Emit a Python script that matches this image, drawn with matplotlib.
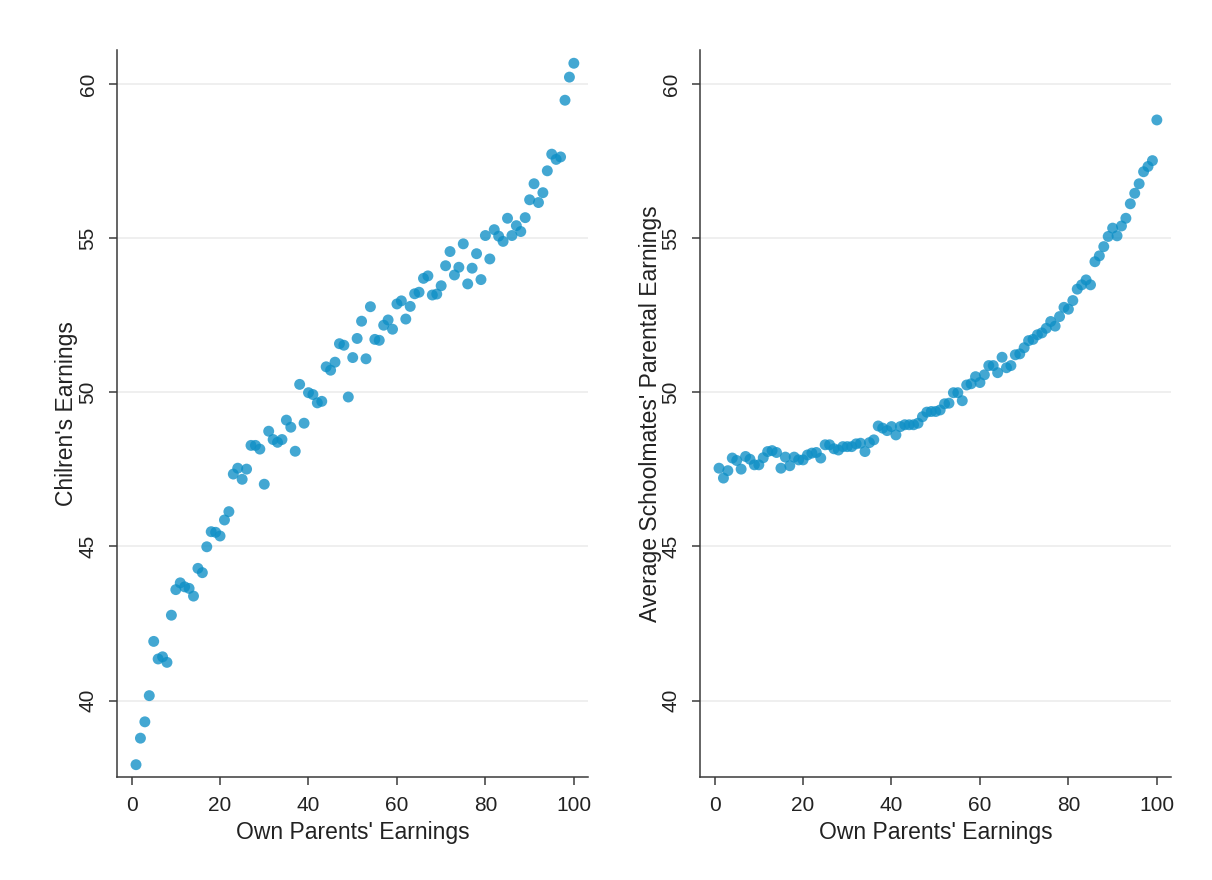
import matplotlib
matplotlib.use("Agg")
import matplotlib.pyplot as plt
import numpy as np

plt.rcParams['font.family'] = ['Liberation Sans', 'DejaVu Sans']

# Percentile of own parents' earnings
parent_rank = list(range(1, 101))

# Mean children's earnings rank by parent percentile
child_earnings = [
    37.92, 38.78, 39.31, 40.16, 41.92, 41.35, 41.42, 41.24, 42.77, 43.60,
    43.82, 43.69, 43.64, 43.39, 44.29, 44.15, 44.99, 45.48, 45.46, 45.34,
    45.86, 46.13, 47.35, 47.54, 47.18, 47.51, 48.28, 48.28, 48.16, 47.02,
    48.74, 48.47, 48.38, 48.47, 49.10, 48.87, 48.09, 50.26, 49.00, 49.99,
    49.93, 49.66, 49.71, 50.83, 50.72, 50.98, 51.58, 51.53, 49.85, 51.13,
    51.75, 52.31, 51.09, 52.78, 51.72, 51.69, 52.18, 52.35, 52.05, 52.87,
    52.97, 52.38, 52.79, 53.20, 53.25, 53.70, 53.78, 53.16, 53.19, 53.46,
    54.11, 54.57, 53.81, 54.06, 54.82, 53.52, 54.03, 54.50, 53.66, 55.09,
    54.33, 55.28, 55.07, 54.90, 55.65, 55.09, 55.41, 55.22, 55.67, 56.25,
    56.77, 56.16, 56.48, 57.19, 57.73, 57.56, 57.64, 59.48, 60.23, 60.68,
]

# Mean parental earnings rank of schoolmates by parent percentile
schoolmate_earnings = [
    47.54, 47.22, 47.46, 47.87, 47.79, 47.51, 47.92, 47.83, 47.65, 47.65,
    47.88, 48.08, 48.11, 48.05, 47.54, 47.90, 47.62, 47.90, 47.81, 47.81,
    47.97, 48.03, 48.05, 47.87, 48.30, 48.30, 48.17, 48.13, 48.24, 48.24,
    48.24, 48.33, 48.35, 48.08, 48.37, 48.46, 48.91, 48.84, 48.76, 48.89,
    48.62, 48.89, 48.95, 48.95, 48.95, 49.00, 49.21, 49.36, 49.38, 49.38,
    49.43, 49.63, 49.65, 49.99, 49.99, 49.73, 50.24, 50.28, 50.51, 50.32,
    50.57, 50.87, 50.87, 50.64, 51.14, 50.80, 50.87, 51.22, 51.25, 51.45,
    51.68, 51.72, 51.87, 51.93, 52.08, 52.30, 52.15, 52.46, 52.76, 52.70,
    52.98, 53.35, 53.49, 53.65, 53.49, 54.24, 54.43, 54.73, 55.06, 55.33,
    55.08, 55.40, 55.65, 56.12, 56.46, 56.77, 57.16, 57.33, 57.52, 58.84,
]

x_ticks = [0, 20, 40, 60, 80, 100]
y_ticks = [40, 45, 50, 55, 60]
x_label = "Own Parents' Earnings"
y_labels = ["Chilren's Earnings", "Average Schoolmates' Parental Earnings"]

W, H = 1212, 880
fig = plt.figure(figsize=(W / 100, H / 100), dpi=100)
fig.patch.set_facecolor('white')

def px_axes(left, top, width, height):
    return fig.add_axes([left / W, 1 - (top + height) / H, width / W, height / H])

AX_W = 471
axes = [px_axes(117, 50, AX_W, 727), px_axes(700, 50, AX_W, 727)]
series = [child_earnings, schoolmate_earnings]

dot_color = '#0e8fc6'
for ax, yvals, ylab in zip(axes, series, y_labels):
    ax.set_xlim(-3.3, 103.2)
    ax.set_ylim(37.52, 61.11)
    ax.set_xticks(x_ticks)
    ax.set_yticks(y_ticks)
    ax.grid(axis='y', color='#ececec', linewidth=1.2)
    ax.set_axisbelow(True)
    ax.scatter(parent_rank, yvals, s=62, color=dot_color, alpha=0.78,
               edgecolors='none', zorder=3)
    for side in ('top', 'right'):
        ax.spines[side].set_visible(False)
    for side in ('left', 'bottom'):
        ax.spines[side].set_color('#3a3a3a')
        ax.spines[side].set_linewidth(1.1)
    ax.tick_params(axis='both', direction='out', length=6, width=1.1,
                   color='#3a3a3a', labelsize=15, labelcolor='#222222', pad=8)
    for lbl in ax.get_yticklabels():
        lbl.set_rotation(90)
        lbl.set_va('center')
    ax.set_xlabel(x_label, fontsize=16.5, color='#222222', labelpad=4)
    ax.set_ylabel(ylab, fontsize=16.5, color='#222222', va='center')
    # Place the y label centre about 50 px left of the axis line
    ax.yaxis.set_label_coords(-50 / AX_W, 0.5)

fig.savefig('out.png', dpi=100, facecolor='white')
